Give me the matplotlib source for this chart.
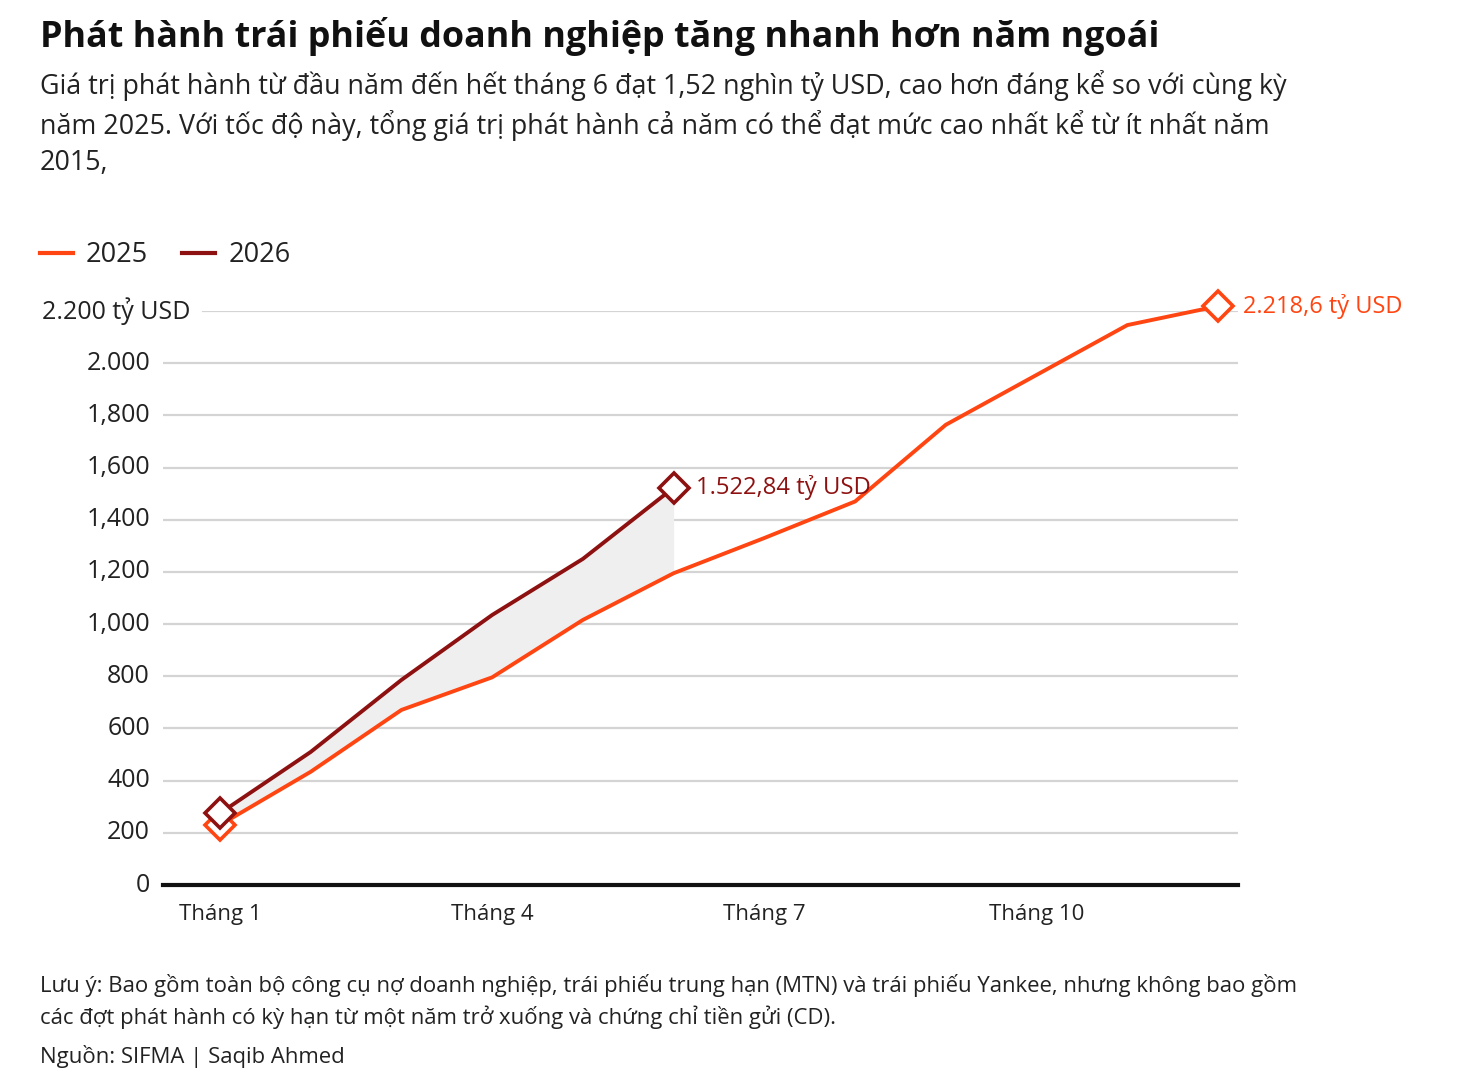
import numpy as np
import matplotlib.pyplot as plt
from matplotlib.lines import Line2D

# dữ liệu (tỷ USD, lũy kế)
months = [1, 2, 3, 4, 5, 6, 7, 8, 9, 10, 11, 12]
val_2025 = [230, 434, 671, 796, 1016, 1195, 1330, 1470, 1764, 1955, 2146, 2218.6]
months_2026 = [1, 2, 3, 4, 5, 6]
val_2026 = [275, 510, 786, 1035, 1250, 1522.84]

ytick_vals = [0, 200, 400, 600, 800, 1000, 1200, 1400, 1600, 1800, 2000, 2200]
ytick_labels = ['0', '200', '400', '600', '800', '1,000', '1,200', '1,400',
                '1,600', '1,800', '2.000', '2.200 tỷ USD']
xtick_vals = [1, 4, 7, 10]
xtick_labels = ['Tháng 1', 'Tháng 4', 'Tháng 7', 'Tháng 10']

c25 = '#ff4612'
c26 = '#8e1111'
grid_c = '#d4d4d4'
txt_c = '#222222'

plt.rcParams['font.family'] = ['Open Sans', 'DejaVu Sans']

W, H = 1462, 1076
fig = plt.figure(figsize=(W / 100, H / 100), dpi=100)
fig.patch.set_facecolor('white')

# khung trục theo pixel: x 163..1238, y(0)=885, y(2200)=311
x0, x1 = 163, 1238
y_bot, y_top = 885, 311
aw = x1 - x0
ax = fig.add_axes([x0 / W, 1 - y_bot / H, aw / W, (y_bot - y_top) / H])
ax.set_xlim(0.372, 12.22)
ax.set_ylim(0, 2200)
ax.axis('off')

# lưới
for v in ytick_vals[1:]:
    xmin = 40 / aw if v == 2200 else 0
    ax.axhline(v, xmin=xmin, xmax=1, color=grid_c, lw=1.6, zorder=1)
ax.axhline(0, color='#111111', lw=3, zorder=5, clip_on=False)

# nhãn trục y
for v, lab in zip(ytick_vals, ytick_labels):
    xpos = (190 - x0) / aw if v == 2200 else (150 - x0) / aw
    ax.text(xpos, v, lab, transform=ax.get_yaxis_transform(),
            ha='right', va='center', fontsize=18, color=txt_c)

# nhãn trục x
for m, lab in zip(xtick_vals, xtick_labels):
    ax.annotate(lab, xy=(m, 0), xytext=(0, -14), textcoords='offset points',
                ha='center', va='top', fontsize=16, color=txt_c, annotation_clip=False)

# vùng tô giữa hai đường
ax.fill_between(months_2026, val_2025[:len(months_2026)], val_2026,
                color='#efefef', zorder=2, lw=0)

ax.plot(months, val_2025, color=c25, lw=2.8, zorder=3, solid_joinstyle='miter', clip_on=False)
ax.plot(months_2026, val_2026, color=c26, lw=2.8, zorder=4, solid_joinstyle='miter', clip_on=False)

mk = dict(marker='D', ms=15.5, mfc='white', mew=2.6, ls='none', clip_on=False)
ax.plot([months[0], months[-1]], [val_2025[0], val_2025[-1]], mec=c25, zorder=6, **mk)
ax.plot([months_2026[0], months_2026[-1]], [val_2026[0], val_2026[-1]], mec=c26, zorder=7, **mk)

ax.annotate('2.218,6 tỷ USD', xy=(months[-1], val_2025[-1]), xytext=(18, 0),
            textcoords='offset points', ha='left', va='center', fontsize=17,
            color=c25, annotation_clip=False)
ax.annotate('1.522,84 tỷ USD', xy=(months_2026[-1], val_2026[-1]), xytext=(16, 0),
            textcoords='offset points', ha='left', va='center', fontsize=17.2,
            color=c26, annotation_clip=False, zorder=8)

# tiêu đề
fig.text(40 / W, 1 - 37 / H, 'Phát hành trái phiếu doanh nghiệp tăng nhanh hơn năm ngoái',
         fontsize=25.8, fontweight='bold', color='#111111', va='center')
sub = ('Giá trị phát hành từ đầu năm đến hết tháng 6 đạt 1,52 nghìn tỷ USD, cao hơn đáng kể so với cùng kỳ\n'
       'năm 2025. Với tốc độ này, tổng giá trị phát hành cả năm có thể đạt mức cao nhất kể từ ít nhất năm\n'
       '2015,')
fig.text(40 / W, 1 - 70 / H, sub, fontsize=19.4, color=txt_c, va='top', linespacing=1.37)

# chú giải
handles = [Line2D([], [], color=c25, lw=3), Line2D([], [], color=c26, lw=3)]
fig.legend(handles, ['2025', '2026'], loc='center left', bbox_to_anchor=(40 / W, 1 - 255 / H),
           frameon=False, fontsize=19.5, ncol=2, handlelength=1.2, handletextpad=0.5,
           columnspacing=1.25, labelcolor=txt_c, borderpad=0, borderaxespad=0)

# ghi chú
note = ('Lưu ý: Bao gồm toàn bộ công cụ nợ doanh nghiệp, trái phiếu trung hạn (MTN) và trái phiếu Yankee, nhưng không bao gồm\n'
        'các đợt phát hành có kỳ hạn từ một năm trở xuống và chứng chỉ tiền gửi (CD).')
fig.text(40 / W, 1 - 974 / H, note, fontsize=15.9, color=txt_c, va='top', linespacing=1.45)
fig.text(40 / W, 1 - 1057 / H, 'Nguồn: SIFMA | Saqib Ahmed', fontsize=15.9, color=txt_c, va='center')

fig.savefig('out.png', dpi=100, facecolor='white')
